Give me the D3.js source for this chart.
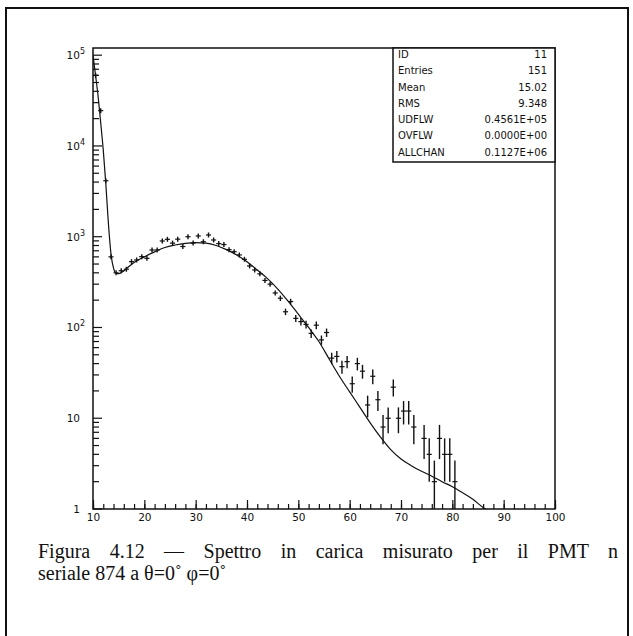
<!DOCTYPE html>
<html>
<head>
<meta charset="utf-8">
<script src="https://cdn.jsdelivr.net/npm/d3@7"></script>
<style>
body { margin: 0; background: #fff; }
text { fill: #111; }
</style>
</head>
<body>
<script>
var width = 633,
    height = 636;

// histogram: bin centres and contents
var binX = [10.5,11.5,12.5,13.5,14.5,15.5,16.5,17.5,18.5,19.5,20.5,21.5,22.5,23.5,24.5,25.5,26.5,27.5,28.5,29.5,
            30.5,31.5,32.5,33.5,34.5,35.5,36.5,37.5,38.5,39.5,40.5,41.5,42.5,43.5,44.5,45.5,46.5,47.5,48.5,49.5,
            50.5,51.5,52.5,53.5,54.5,55.5,56.5,57.5,58.5,59.5,60.5,61.5,62.5,63.5,64.5,65.5,66.5,67.5,68.5,69.5,
            70.5,71.5,72.5,74.5,75.5,76.5,77.5,78.5,79.5,80.5];
var counts = [60000,24500,4140,600,400,422,438,531,554,603,578,714,714,897,936,850,940,780,1000,850,
              1020,880,1045,920,840,820,720,684,630,564,476,430,390,330,300,240,210,149,193,126,
              116,108,86,106,73,88,46,48,37,42,24,40,33,14,29,16,8,10,22,10,
              12,12,8,6,4,2,6,4,4,2];

// fitted curve
var fitX = [10,10.5,11,11.5,12,12.5,13,13.5,14,14.5,15,16,17,18,20,22,24,26,28,30,32,34,36,38,40,42,44,46,48,50,
            52,54,56,58,60,62,64,66,68,70,72,74,76,78,80,82,84,86,87.5];
var fitY = [100000,60000,35000,18000,9000,3800,1400,650,450,395,392,420,470,520,600,680,760,810,845,860,850,800,720,630,530,430,345,265,195,140,
            100,70,45,29,19.5,13.2,8.9,6.2,4.5,3.55,3.0,2.6,2.3,2.0,1.76,1.51,1.28,1.04,0.93];

var xMajor = [10,20,30,40,50,60,70,80,90,100];
var xMinor = d3.range(10, 101, 2);
var yDecades = [0,1,2,3,4,5];

var statNames = ["ID","Entries","Mean","RMS","UDFLW","OVFLW","ALLCHAN"];
var statValues = ["11","151","15.02","9.348","0.4561E+05","0.0000E+00","0.1127E+06"];

var caption1 = "Figura 4.12 \u2014 Spettro in carica misurato per il PMT n";
var caption2 = "seriale 874 a \u03b8=0\u02da \u03c6=0\u02da";

var ink = "#111";

var svg = d3.select('body')
    .append('svg')
    .attr('width', width)
    .attr('height', height);

// page frame
svg.append('path')
    .attr('d', 'M6,' + (height + 5) + 'V8H628V' + (height + 5))
    .attr('fill', 'none')
    .attr('stroke', ink)
    .attr('stroke-width', 2);

var plot = {left: 93, right: 555, top: 48, bottom: 509};

var x = d3.scaleLinear().domain([10, 100]).range([plot.left, plot.right]);
var y = d3.scaleLog().domain([1, 1.2e5]).range([plot.bottom, plot.top]);

svg.append('clipPath').attr('id', 'clip')
  .append('rect')
    .attr('x', plot.left).attr('y', plot.top)
    .attr('width', plot.right - plot.left).attr('height', plot.bottom - plot.top);

// x axis ticks (inside)
svg.append('g')
    .attr('transform', 'translate(0,' + plot.bottom + ')')
    .call(d3.axisBottom(x).tickValues(xMinor).tickSize(-5).tickFormat(''))
    .call(function(g) { g.select('.domain').remove(); });

var xa = svg.append('g')
    .attr('transform', 'translate(0,' + plot.bottom + ')')
    .call(d3.axisBottom(x).tickValues(xMajor).tickSize(-9).tickPadding(5))
    .call(function(g) { g.select('.domain').remove(); });
xa.selectAll('text')
    .attr('font-family', 'DejaVu Sans')
    .attr('font-size', 10.5)
    .attr('fill', ink);
svg.selectAll('.tick line').attr('stroke', ink).attr('stroke-width', 1.2);

// y axis ticks, log
var yMinor = [];
yDecades.forEach(function(e) {
  if (e < 5) for (var k = 2; k <= 9; k++) yMinor.push(k * Math.pow(10, e));
});
svg.append('g').selectAll('line')
    .data(yMinor)
  .enter().append('line')
    .attr('x1', plot.left).attr('x2', plot.left + 6)
    .attr('y1', function(d) { return y(d); })
    .attr('y2', function(d) { return y(d); })
    .attr('stroke', ink).attr('stroke-width', 1.2);
svg.append('g').selectAll('line')
    .data(yDecades)
  .enter().append('line')
    .attr('x1', plot.left).attr('x2', plot.left + 9)
    .attr('y1', function(d) { return y(Math.pow(10, d)); })
    .attr('y2', function(d) { return y(Math.pow(10, d)); })
    .attr('stroke', ink).attr('stroke-width', 1.2);

var ylab = svg.append('g').selectAll('text')
    .data(yDecades)
  .enter().append('text')
    .attr('font-family', 'DejaVu Sans')
    .attr('font-size', 10.5)
    .attr('text-anchor', 'end')
    .attr('x', function(d) { return d > 1 ? 85 : 80; })
    .attr('y', function(d) { return y(Math.pow(10, d)) + 4; });
ylab.append('tspan').text(function(d) { return d === 0 ? '1' : '10'; });
ylab.filter(function(d) { return d > 1; })
  .append('tspan')
    .attr('font-size', 8)
    .attr('dy', -5)
    .text(function(d) { return d; });

// fitted curve
var line = d3.line()
    .x(function(d, i) { return x(fitX[i]); })
    .y(function(d) { return y(d); })
    .curve(d3.curveMonotoneX);

svg.append('path')
    .datum(fitY)
    .attr('clip-path', 'url(#clip)')
    .attr('d', line)
    .attr('fill', 'none')
    .attr('stroke', ink)
    .attr('stroke-width', 1.2);

// data points: bin-width bar and sqrt(N) error bar
var pts = svg.append('g')
    .attr('clip-path', 'url(#clip)')
    .selectAll('g')
    .data(counts)
  .enter().append('g');

pts.append('line')
    .attr('x1', function(d, i) { return x(binX[i] - 0.5); })
    .attr('x2', function(d, i) { return x(binX[i] + 0.5); })
    .attr('y1', function(d) { return y(d); })
    .attr('y2', function(d) { return y(d); })
    .attr('stroke', ink).attr('stroke-width', 1.2);

pts.append('line')
    .attr('x1', function(d, i) { return x(binX[i]); })
    .attr('x2', function(d, i) { return x(binX[i]); })
    .attr('y1', function(d) { return Math.max(y(Math.max(d - Math.sqrt(d), 1)), y(d) + 2.5); })
    .attr('y2', function(d) { return Math.min(y(d + Math.sqrt(d)), y(d) - 2.5); })
    .attr('stroke', ink).attr('stroke-width', 1.4);

// frame of the histogram
svg.append('rect')
    .attr('x', plot.left).attr('y', plot.top)
    .attr('width', plot.right - plot.left).attr('height', plot.bottom - plot.top)
    .attr('fill', 'none').attr('stroke', ink).attr('stroke-width', 1.5);

// statistics box
var box = {x: 393, y: 48, w: 162, h: 114};
svg.append('rect')
    .attr('x', box.x).attr('y', box.y).attr('width', box.w).attr('height', box.h)
    .attr('fill', '#fff').attr('stroke', ink).attr('stroke-width', 1.5);

var rowY = d3.scaleLinear().domain([0, statNames.length - 1]).range([58, 155.5]);
svg.append('g').selectAll('text')
    .data(statNames)
  .enter().append('text')
    .attr('x', box.x + 5)
    .attr('y', function(d, i) { return rowY(i); })
    .attr('font-family', 'DejaVu Sans').attr('font-size', 10)
    .text(function(d) { return d; });
svg.append('g').selectAll('text')
    .data(statValues)
  .enter().append('text')
    .attr('x', box.x + box.w - 8)
    .attr('y', function(d, i) { return rowY(i); })
    .attr('text-anchor', 'end')
    .attr('font-family', 'DejaVu Sans').attr('font-size', 10)
    .text(function(d) { return d; });

// caption (first line justified)
var cap1 = svg.append('text')
    .attr('x', 38).attr('y', 558)
    .attr('font-family', 'Liberation Serif').attr('font-size', 20)
    .text(caption1);
var natural = cap1.node().getComputedTextLength();
var spaces = caption1.split(' ').length - 1;
cap1.attr('word-spacing', (618 - 38 - natural) / spaces);

svg.append('text')
    .attr('x', 38).attr('y', 580)
    .attr('font-family', 'Liberation Serif').attr('font-size', 20)
    .text(caption2);
</script>
</body>
</html>
